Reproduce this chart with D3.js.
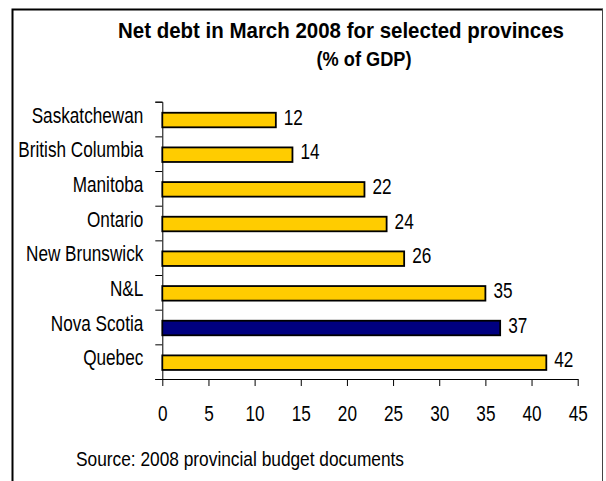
<!DOCTYPE html>
<html>
<head>
<meta charset="utf-8">
<script src="https://cdn.jsdelivr.net/npm/d3@7"></script>
<style>
  body { margin: 0; background: #fff; }
  svg { display: block; }
  text { font-family: "Liberation Sans Narrow", "Arial Narrow", "Liberation Sans", sans-serif; fill: #000; }
</style>
</head>
<body>
<div id="chart"></div>
<script>
// net debt, march 2008, % of GDP (label shows rounded value)
const provinces = ["Saskatchewan", "British Columbia", "Manitoba", "Ontario", "New Brunswick", "N&L", "Nova Scotia", "Quebec"];
const netDebt = [12.3, 14.1, 21.9, 24.3, 26.2, 35.0, 36.6, 41.6];
const highlight = ["Nova Scotia"];
const xTicks = [0, 5, 10, 15, 20, 25, 30, 35, 40, 45];

const titleText = "Net debt in March 2008 for selected provinces";
const subtitleText = "(% of GDP)";
const sourceText = "Source: 2008 provincial budget documents";

const width = 606, height = 481;
const margin = {top: 101.7, right: 28.3, bottom: 102, left: 162.3};
const narrowFactor = 0.78;  // no narrow font installed, squeeze the regular one
const labelSize = "22px";

const data = provinces.map(function(p, i) { return {name: p, value: netDebt[i]}; });

// squeeze text horizontally, either by a factor or to a fixed width
function narrow(sel, factor, fixed) {
	sel.each(function() {
		var len = this.getComputedTextLength();
		d3.select(this)
			.attr("textLength", fixed ? fixed : len * factor)
			.attr("lengthAdjust", "spacingAndGlyphs");
	});
}

const svg = d3.select("#chart").append("svg")
	.attr("width", width)
	.attr("height", height);

// frame around the chart (bottom runs off the picture)
svg.append("path")
	.attr("d", "M12.5,490V9.5H603")
	.attr("fill", "none")
	.attr("stroke", "#000")
	.attr("stroke-width", 2);
svg.append("line")
	.attr("x1", 602.5).attr("x2", 602.5)
	.attr("y1", 9).attr("y2", 490)
	.attr("stroke", "#444")
	.attr("stroke-width", 1);

const x = d3.scaleLinear()
	.domain([0, 45])
	.range([margin.left, width - margin.right]);

const y = d3.scaleBand()
	.domain(provinces)
	.range([margin.top, height - margin.bottom])
	.paddingInner(0.58)
	.paddingOuter(0.29);

// category boundaries for the excel-style tick marks
const yEdge = d3.scaleLinear()
	.domain([0, provinces.length])
	.range([margin.top, height - margin.bottom]);

svg.append("g")
	.attr("class", "y-axis")
	.attr("transform", "translate(" + margin.left + ",0)")
	.call(d3.axisLeft(yEdge).ticks(provinces.length).tickFormat("").tickSize(7).tickSizeOuter(7))
	.call(function(g) {
		g.selectAll("path, line").attr("stroke", "#000");
	});

svg.append("g")
	.attr("class", "x-axis")
	.attr("transform", "translate(0," + (height - margin.bottom) + ")")
	.call(d3.axisBottom(x).tickValues(xTicks).tickSize(7).tickSizeOuter(0).tickPadding(19.5))
	.call(function(g) {
		g.attr("font-family", null).attr("font-size", null);
		g.selectAll("path, line").attr("stroke", "#000");
		g.selectAll("text")
			.style("font-size", labelSize)
			.attr("fill", "#000")
			.call(narrow, narrowFactor);
	});

// province names
svg.append("g")
	.selectAll("text")
	.data(provinces)
	.join("text")
	.attr("x", margin.left - 19)
	.attr("y", function(d) { return y(d) + y.bandwidth() / 2 + 3.5; })
	.attr("text-anchor", "end")
	.style("font-size", labelSize)
	.text(function(d) { return d; })
	.call(narrow, narrowFactor);

// bars
svg.append("g")
	.selectAll("rect")
	.data(data)
	.join("rect")
	.attr("x", x(0))
	.attr("y", function(d) { return y(d.name) + 1; })
	.attr("width", function(d) { return x(d.value) - x(0); })
	.attr("height", y.bandwidth())
	.attr("fill", function(d) { return highlight.includes(d.name) ? "#000080" : "#FFCC00"; })
	.attr("stroke", "#000")
	.attr("stroke-width", 1.8);

// value labels
svg.append("g")
	.selectAll("text")
	.data(data)
	.join("text")
	.attr("x", function(d) { return x(d.value) + 8; })
	.attr("y", function(d) { return y(d.name) + 1 + y.bandwidth() / 2 + 4.5; })
	.style("font-size", labelSize)
	.text(function(d) { return d3.format(".0f")(d.value); })
	.call(narrow, narrowFactor);

svg.append("text")
	.attr("x", 341)
	.attr("y", 38)
	.attr("text-anchor", "middle")
	.style("font-size", "22px")
	.style("font-weight", "bold")
	.text(titleText)
	.call(narrow, null, 446);

svg.append("text")
	.attr("x", 364)
	.attr("y", 66)
	.attr("text-anchor", "middle")
	.style("font-size", "20px")
	.style("font-weight", "bold")
	.text(subtitleText)
	.call(narrow, null, 95);

svg.append("text")
	.attr("x", 76)
	.attr("y", 466)
	.style("font-size", "21px")
	.text(sourceText)
	.call(narrow, null, 328);
</script>
</body>
</html>
